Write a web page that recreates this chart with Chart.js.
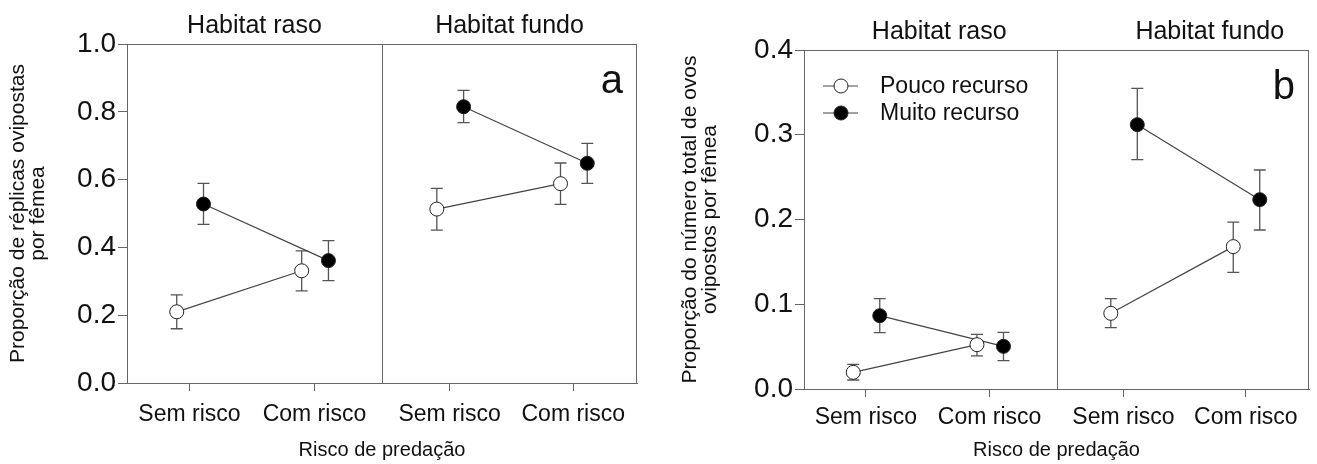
<!DOCTYPE html>
<html lang="pt">
<head>
<meta charset="UTF-8">
<title>Proporção de oviposição por habitat e risco de predação</title>
<script src="https://cdn.jsdelivr.net/npm/chart.js"></script>
<style>
  body { margin: 0; background: #fff; }
  .panel { position: absolute; top: 0; height: 464px; }
  #panelA { left: 0; width: 660px; }
  #panelB { left: 660px; width: 657px; }
</style>
</head>
<body>
<div class="panel" id="panelA"><canvas id="chartA"></canvas></div>
<div class="panel" id="panelB"><canvas id="chartB"></canvas></div>
<script>
const habitats = ['Habitat raso', 'Habitat fundo'];
const categories = ['Sem risco', 'Com risco'];
const seriesNames = ['Pouco recurso', 'Muito recurso'];

// order of values: raso/Sem, raso/Com, fundo/Sem, fundo/Com
const aPoucoMean = [0.21, 0.331, 0.513, 0.588];
const aPoucoLow  = [0.16, 0.272, 0.451, 0.527];
const aPoucoHigh = [0.26, 0.39, 0.574, 0.649];
const aMuitoMean = [0.528, 0.361, 0.815, 0.648];
const aMuitoLow  = [0.468, 0.302, 0.768, 0.589];
const aMuitoHigh = [0.589, 0.42, 0.863, 0.707];

const bPoucoMean = [0.0197, 0.0523, 0.0893, 0.168];
const bPoucoLow  = [0.0106, 0.039, 0.0724, 0.1377];
const bPoucoHigh = [0.029, 0.0645, 0.1066, 0.197];
const bMuitoMean = [0.0865, 0.0503, 0.3119, 0.2234];
const bMuitoLow  = [0.0665, 0.0334, 0.2706, 0.1876];
const bMuitoHigh = [0.1066, 0.0669, 0.3548, 0.2584];

const FONT = "'Liberation Sans', Arial, sans-serif";
const TEXT = '#111';
const AXIS = '#666';
const tickPos = [0.49, 1.47, 2.53, 3.5];
const shift = [-0.1, 0.11];

function makeSets(means, lows, highs) {
    const sets = [];
    [0, 1].forEach(h => {
        [0, 1].forEach(s => {
            const idx = [h * 2, h * 2 + 1];
            sets.push({
                label: seriesNames[s],
                data: idx.map(i => ({ x: tickPos[i] + shift[s], y: means[s][i] })),
                low: idx.map(i => lows[s][i]),
                high: idx.map(i => highs[s][i]),
                showLine: true,
                borderColor: '#444',
                borderWidth: 1.2,
                pointRadius: 7,
                pointBorderWidth: 1,
                pointBorderColor: '#222',
                pointBackgroundColor: s === 0 ? '#fff' : '#000'
            });
        });
    });
    return sets;
}

const decorations = {
    id: 'decorations',
    beforeDatasetsDraw(chart) {
        const ctx = chart.ctx;
        const y = chart.scales.y;
        ctx.save();
        ctx.strokeStyle = '#555';
        ctx.lineWidth = 1.3;
        chart.data.datasets.forEach((ds, di) => {
            chart.getDatasetMeta(di).data.forEach((pt, i) => {
                const top = y.getPixelForValue(ds.high[i]);
                const bot = y.getPixelForValue(ds.low[i]);
                ctx.beginPath();
                ctx.moveTo(pt.x, top); ctx.lineTo(pt.x, bot);
                ctx.moveTo(pt.x - 6, top); ctx.lineTo(pt.x + 6, top);
                ctx.moveTo(pt.x - 6, bot); ctx.lineTo(pt.x + 6, bot);
                ctx.stroke();
            });
        });
        ctx.restore();
    },
    afterDraw(chart, args, opts) {
        const ctx = chart.ctx;
        const a = chart.chartArea;
        const x = chart.scales.x;
        ctx.save();
        ctx.strokeStyle = AXIS;
        ctx.lineWidth = 1;
        ctx.strokeRect(a.left + 0.5, a.top + 0.5, a.right - a.left - 1, a.bottom - a.top);
        const mid = Math.round(x.getPixelForValue(2)) + 0.5;
        ctx.beginPath();
        ctx.moveTo(mid, a.top); ctx.lineTo(mid, a.bottom);
        ctx.stroke();

        ctx.fillStyle = TEXT;
        ctx.font = '25px ' + FONT;
        ctx.textAlign = 'center';
        ctx.textBaseline = 'alphabetic';
        habitats.forEach((h, i) => {
            ctx.fillText(h, x.getPixelForValue(i * 2 + 1) + opts.titleShift[i], a.top - 11);
        });

        ctx.font = '40px ' + FONT;
        ctx.textAlign = 'right';
        ctx.fillText(opts.letter, a.right - 14, a.top + 49);

        if (opts.legend) {
            ctx.font = '23px ' + FONT;
            ctx.textAlign = 'left';
            ctx.textBaseline = 'middle';
            seriesNames.forEach((name, i) => {
                const ly = a.top + 36 + i * 27;
                ctx.strokeStyle = '#444';
                ctx.lineWidth = 1.2;
                ctx.beginPath();
                ctx.moveTo(a.left + 19, ly); ctx.lineTo(a.left + 54, ly);
                ctx.stroke();
                ctx.beginPath();
                ctx.arc(a.left + 37, ly, 7, 0, Math.PI * 2);
                ctx.fillStyle = i === 0 ? '#fff' : '#000';
                ctx.fill();
                ctx.strokeStyle = '#222';
                ctx.lineWidth = 1;
                ctx.stroke();
                ctx.fillStyle = TEXT;
                ctx.fillText(name, a.left + 76, ly + 1);
            });
        }
        ctx.restore();
    }
};

function makeChart(id, cfg) {
    return new Chart(document.getElementById(id), {
        type: 'scatter',
        data: { datasets: makeSets(cfg.means, cfg.lows, cfg.highs) },
        plugins: [decorations],
        options: {
            responsive: true,
            maintainAspectRatio: false,
            animation: false,
            layout: { padding: cfg.padding },
            plugins: {
                legend: { display: false },
                tooltip: { enabled: false },
                decorations: { letter: cfg.letter, legend: cfg.legend, titleShift: cfg.titleShift }
            },
            scales: {
                x: {
                    type: 'linear',
                    min: 0,
                    max: 4,
                    afterBuildTicks: s => { s.ticks = tickPos.map(v => ({ value: v })); },
                    afterFit: s => { s.height = cfg.xHeight; },
                    ticks: {
                        autoSkip: false,
                        maxRotation: 0,
                        padding: cfg.xTickPad,
                        color: TEXT,
                        font: { family: FONT, size: 23 },
                        callback: (v, i) => categories[i % 2]
                    },
                    grid: { drawOnChartArea: false, tickLength: 8, color: AXIS },
                    border: { color: AXIS },
                    title: {
                        display: true,
                        text: 'Risco de predação',
                        color: TEXT,
                        font: { family: FONT, size: 20 },
                        padding: { bottom: 2 }
                    }
                },
                y: {
                    min: 0,
                    max: cfg.yMax,
                    afterFit: s => { s.width = cfg.yWidth; },
                    ticks: {
                        stepSize: cfg.yStep,
                        padding: 2,
                        color: TEXT,
                        font: { family: FONT, size: 28 },
                        callback: v => v.toFixed(1)
                    },
                    grid: { drawOnChartArea: false, tickLength: 9, color: AXIS },
                    border: { color: AXIS },
                    title: {
                        display: true,
                        text: cfg.yTitle,
                        color: TEXT,
                        font: { family: FONT, size: 21, lineHeight: 0.95 },
                        padding: { top: cfg.yTitlePad }
                    }
                }
            }
        }
    });
}

makeChart('chartA', {
    means: [aPoucoMean, aMuitoMean], lows: [aPoucoLow, aMuitoLow], highs: [aPoucoHigh, aMuitoHigh],
    yMax: 1, yStep: 0.2,
    yTitle: ['Proporção de réplicas ovipostas', 'por fêmea'],
    yTitlePad: 8, yWidth: 127, xHeight: 81, xTickPad: 10,
    padding: { top: 44, right: 23, left: 0, bottom: 0 },
    letter: 'a', legend: false, titleShift: [0, 0]
});

makeChart('chartB', {
    means: [bPoucoMean, bMuitoMean], lows: [bPoucoLow, bMuitoLow], highs: [bPoucoHigh, bMuitoHigh],
    yMax: 0.4, yStep: 0.1,
    yTitle: ['Proporção do número total de ovos', 'ovipostos por fêmea'],
    yTitlePad: 20, yWidth: 144, xHeight: 75, xTickPad: 7,
    padding: { top: 50, right: 3, left: 0, bottom: 0 },
    letter: 'b', legend: true, titleShift: [9, 27]
});
</script>
</body>
</html>
